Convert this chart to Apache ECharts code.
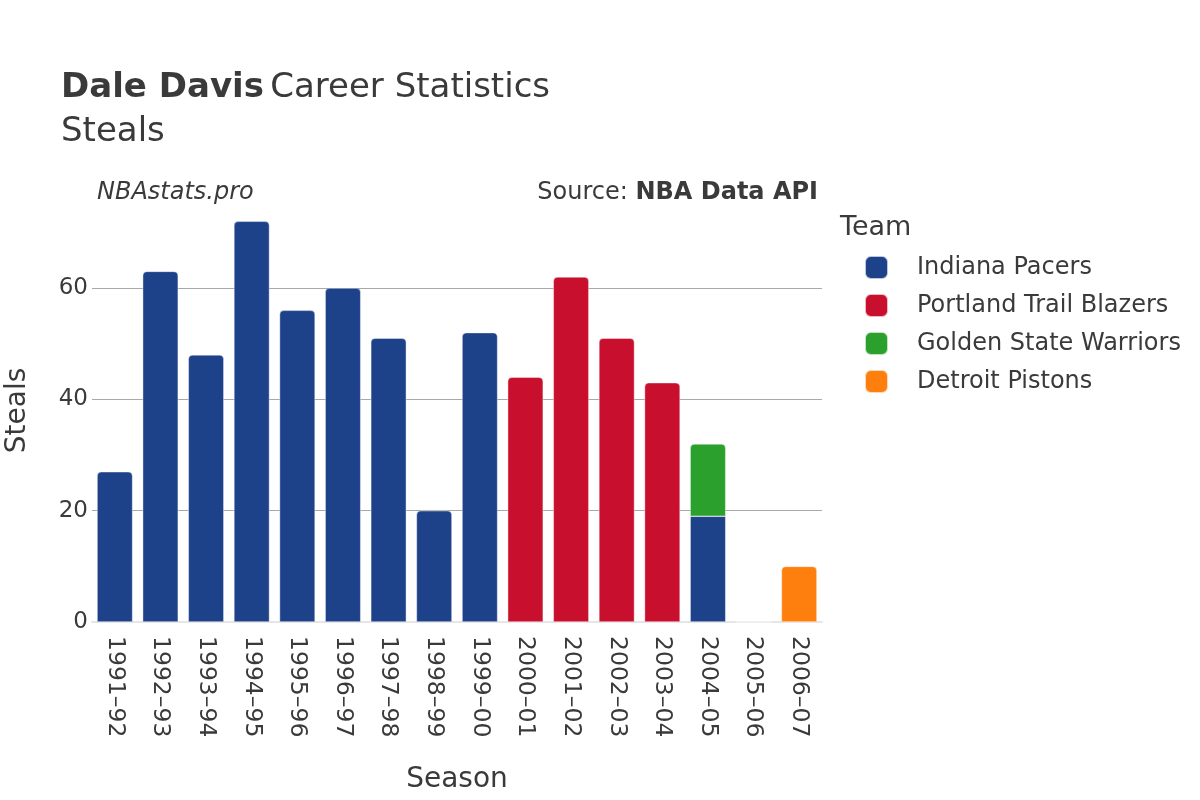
<!DOCTYPE html>
<html>
<head>
<meta charset="utf-8">
<script src="https://cdn.jsdelivr.net/npm/echarts@6/dist/echarts.min.js"></script>
<style>
  html, body { margin: 0; padding: 0; background: #fff; }
  #chart { width: 1200px; height: 800px; }
</style>
</head>
<body>
<div id="chart"></div>
<script>
// seasons on the x axis
const seasons = ['1991–92', '1992–93', '1993–94', '1994–95', '1995–96', '1996–97', '1997–98', '1998–99',
  '1999–00', '2000–01', '2001–02', '2002–03', '2003–04', '2004–05', '2005–06', '2006–07'];

// steals per team, null where he did not play for them
const indianaPacers = [27, 63, 48, 72, 56, 60, 51, 20, 52, null, null, null, null, 19, null, null];
const portlandBlazers = [null, null, null, null, null, null, null, null, null, 44, 62, 51, 43, null, null, null];
const goldenState = [null, null, null, null, null, null, null, null, null, null, null, null, null, 13, null, null];
const detroitPistons = [null, null, null, null, null, null, null, null, null, null, null, null, null, null, 0, 10];

const yTicks = [0, 20, 40, 60];

const font = 'DejaVu Sans';
const textColor = '#3a3a3a';

// top of a stack keeps the round corners, the part below gets flat ones
function stackData(values, flatAt) {
  return values.map(function (v, i) {
    if (flatAt.indexOf(i) >= 0) {
      return { value: v, itemStyle: { borderRadius: 0 } };
    }
    return v;
  });
}

function barSeries(name, color, data) {
  return {
    name: name,
    type: 'bar',
    stack: 'total',
    data: data,
    barCategoryGap: '22%',
    itemStyle: {
      color: color,
      borderRadius: [4, 4, 0, 0],
      borderColor: 'rgba(255,255,255,0.7)',
      borderWidth: 0.6
    }
  };
}

const chart = echarts.init(document.getElementById('chart'));

let options = {
  animation: false,
  textStyle: { fontFamily: font },
  title: [
    {
      text: '{b|Dale Davis} {n|Career Statistics}\n{n|Steals}',
      left: 61,
      top: 66,
      padding: 0,
      textStyle: {
        rich: {
          b: { fontSize: 34, fontWeight: 'bold', color: textColor, fontFamily: font, lineHeight: 44 },
          n: { fontSize: 34, fontWeight: 'normal', color: textColor, fontFamily: font, lineHeight: 44 }
        }
      }
    },
    {
      text: 'NBAstats.pro',
      left: 97,
      top: 181,
      padding: 0,
      textStyle: { fontSize: 24, fontStyle: 'italic', fontWeight: 'normal', color: textColor, fontFamily: font }
    },
    {
      text: '{n|Source: }{b|NBA Data API}',
      right: 382,
      top: 181,
      padding: 0,
      textStyle: {
        rich: {
          n: { fontSize: 24, fontWeight: 'normal', color: textColor, fontFamily: font },
          b: { fontSize: 24, fontWeight: 'bold', color: textColor, fontFamily: font }
        }
      }
    },
    {
      text: 'Team',
      left: 840,
      top: 214,
      padding: 0,
      textStyle: { fontSize: 27, fontWeight: 'normal', color: textColor, fontFamily: font }
    }
  ],
  legend: {
    orient: 'vertical',
    left: 864,
    top: 255,
    padding: 0,
    icon: 'roundRect',
    itemWidth: 23,
    itemHeight: 23,
    itemGap: 13,
    textStyle: { fontSize: 24, lineHeight: 22, color: textColor, fontFamily: font, padding: [0, 0, 0, 24] },
    data: ['Indiana Pacers', 'Portland Trail Blazers', 'Golden State Warriors', 'Detroit Pistons']
  },
  grid: {
    left: 92,
    right: 378,
    top: 199,
    bottom: 178,
    outerBoundsMode: 'none'
  },
  xAxis: {
    type: 'category',
    data: seasons,
    name: 'Season',
    nameLocation: 'middle',
    nameGap: 144,
    nameMoveOverlap: false,
    nameTextStyle: { fontSize: 28, color: textColor, fontFamily: font },
    axisLine: { lineStyle: { color: '#e6e6e6', width: 2 } },
    axisTick: { show: false },
    axisLabel: {
      rotate: -90,
      interval: 0,
      margin: 14,
      fontSize: 23.5,
      color: textColor,
      fontFamily: font
    }
  },
  yAxis: {
    type: 'value',
    min: yTicks[0],
    max: 76,
    interval: yTicks[1] - yTicks[0],
    name: 'Steals',
    nameLocation: 'middle',
    nameGap: 60,
    nameMoveOverlap: false,
    nameTextStyle: { fontSize: 28, color: textColor, fontFamily: font },
    axisLine: { show: false },
    axisTick: { show: false },
    axisLabel: { fontSize: 23, color: textColor, fontFamily: font, margin: 4, showMaxLabel: false },
    splitLine: {
      show: true,
      showMinLine: false,
      showMaxLine: false,
      lineStyle: { color: '#a8a8a8', width: 1 }
    }
  },
  series: [
    barSeries('Indiana Pacers', '#1d428a', stackData(indianaPacers, [13])),
    barSeries('Portland Trail Blazers', '#c8102e', portlandBlazers),
    barSeries('Golden State Warriors', '#2ca02c', goldenState),
    barSeries('Detroit Pistons', '#ff7f0e', detroitPistons)
  ]
};

chart.setOption(options);
</script>
</body>
</html>
